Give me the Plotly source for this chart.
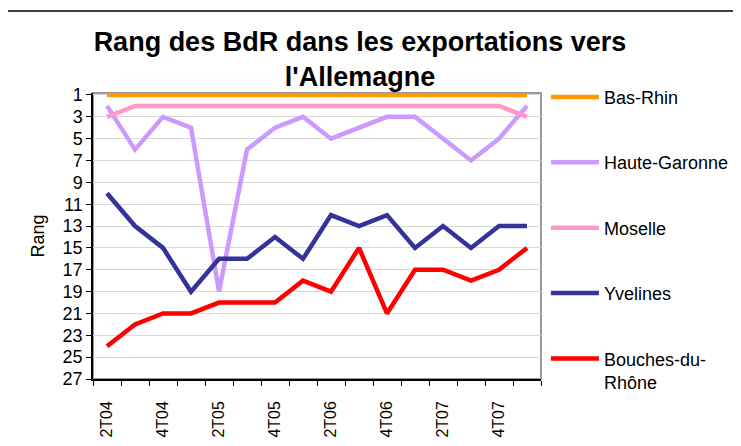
import plotly.graph_objects as go

quarters = ["2T04", "3T04", "4T04", "1T05", "2T05", "3T05", "4T05", "1T06",
            "2T06", "3T06", "4T06", "1T07", "2T07", "3T07", "4T07", "1T08"]
bas_rhin = [1, 1, 1, 1, 1, 1, 1, 1, 1, 1, 1, 1, 1, 1, 1, 1]
haute_garonne = [2, 6, 3, 4, 19, 6, 4, 3, 5, 4, 3, 3, 5, 7, 5, 2]
moselle = [3, 2, 2, 2, 2, 2, 2, 2, 2, 2, 2, 2, 2, 2, 2, 3]
yvelines = [10, 13, 15, 19, 16, 16, 14, 16, 12, 13, 12, 15, 13, 15, 13, 13]
bouches_du_rhone = [24, 22, 21, 21, 20, 20, 20, 18, 19, 15, 21, 17, 17, 18, 17, 15]
y_ticks = list(range(1, 28, 2))

series = [
    ("Bas-Rhin", bas_rhin, "#FF9900"),
    ("Haute-Garonne", haute_garonne, "#CC99FF"),
    ("Moselle", moselle, "#FF99CC"),
    ("Yvelines", yvelines, "#333399"),
    ("Bouches-du-<br>Rhône", bouches_du_rhone, "#FF0000"),
]

FONT = "Liberation Sans, Arial, sans-serif"

fig = go.Figure()
for i, (name, vals, color) in enumerate(series):
    fig.add_trace(go.Scatter(
        x=quarters, y=vals, name=name, mode="lines",
        line=dict(color=color, width=4.5),
        legendgroup=str(i),
    ))

ticktext = [q if i % 2 == 0 else "" for i, q in enumerate(quarters)]

fig.update_layout(
    width=741, height=446,
    margin=dict(l=85, r=208, t=85, b=75),
    paper_bgcolor="white", plot_bgcolor="white",
    font=dict(family=FONT, size=18, color="black"),
    title=dict(
        text="<b>Rang des BdR dans les exportations vers<br>l'Allemagne</b>",
        x=0.475, xanchor="center", xref="container",
        y=0.903, yanchor="top", yref="container",
        font=dict(family=FONT, size=27, color="black"),
    ),
    showlegend=True,
    legend=dict(
        x=1.011, xanchor="left", y=1.05, yanchor="top",
        tracegroupgap=39, valign="top", maxheight=440, itemwidth=48,
        font=dict(family=FONT, size=18, color="black"),
        bgcolor="rgba(0,0,0,0)",
    ),
    xaxis=dict(
        type="category", range=[-0.5, len(quarters) - 0.5],
        tickmode="array", tickvals=quarters, ticktext=ticktext,
        tickson="boundaries", ticks="outside", ticklen=5, tickcolor="black",
        tickangle=-90, tickfont=dict(family=FONT, size=16),
        ticklabelstandoff=14,
        showline=True, linecolor="black", linewidth=1.5,
        showgrid=False, zeroline=False,
    ),
    yaxis=dict(
        range=[27, 0.82], tickmode="array", tickvals=y_ticks,
        ticks="outside", ticklen=5, tickcolor="black",
        tickfont=dict(family=FONT, size=18),
        showline=True, linecolor="black", linewidth=1.5,
        showgrid=True, gridcolor="#D9D9D9", gridwidth=1,
        zeroline=False,
        title=dict(text="Rang", font=dict(family=FONT, size=18), standoff=13),
    ),
    shapes=[
        dict(type="rect", xref="paper", yref="paper", x0=0, x1=1, y0=0, y1=1,
             line=dict(color="#999999", width=2), layer="below"),
        dict(type="rect", xref="paper", yref="paper",
             x0=-0.192, x1=1.5, y0=-0.3, y1=1.2867,
             line=dict(color="black", width=1.5), layer="below"),
    ],
)

fig.write_html("out.html")
